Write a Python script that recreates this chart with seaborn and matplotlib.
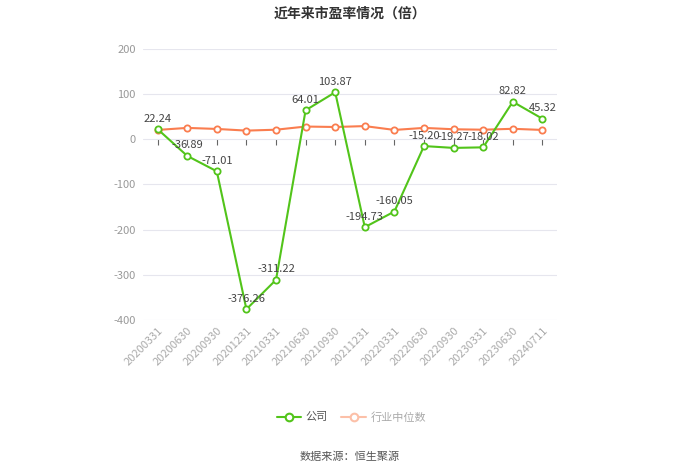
import matplotlib
matplotlib.use("Agg")
import matplotlib.pyplot as plt
import seaborn as sns
import pandas as pd
import numpy as np
from matplotlib.lines import Line2D

dates = ["20200331", "20200630", "20200930", "20201231", "20210331", "20210630", "20210930",
         "20211231", "20220331", "20220630", "20220930", "20230331", "20230630", "20240711"]
company = [22.24, -36.89, -71.01, -376.26, -311.22, 64.01, 103.87, -194.73, -160.05,
           -15.20, -19.27, -18.02, 82.82, 45.32]
industry = [20.5, 25, 22.7, 19, 21, 28, 27, 29, 20.5, 25, 22, 21, 23, 20.5]
yticks = [-400, -300, -200, -100, 0, 100, 200]

sns.set_theme(style="white")
plt.rcParams['font.family'] = ['Noto Sans CJK SC', 'DejaVu Sans']

df = pd.DataFrame({"idx": np.arange(len(dates)), "date": dates,
                   "company": company, "industry": industry})

fig = plt.figure(figsize=(7, 4.74), dpi=100)
ax = fig.add_axes([0.204, 0.325, 0.592, 0.572])

green = "#52c41a"
orange = "#fa7d4f"

sns.lineplot(data=df, x="idx", y="industry", ax=ax, color=orange, lw=1.5,
             marker="o", markersize=4.5, markerfacecolor="white",
             markeredgecolor=orange, markeredgewidth=1.3, zorder=3)
sns.lineplot(data=df, x="idx", y="company", ax=ax, color=green, lw=1.5,
             marker="o", markersize=4.5, markerfacecolor="white",
             markeredgecolor=green, markeredgewidth=1.3, zorder=4)

for i, v in zip(df["idx"], df["company"]):
    ax.annotate(f"{v:.2f}", (i, v), xytext=(0, 4), textcoords="offset points",
                ha="center", va="bottom", fontsize=8, color="#444444", zorder=5)

ax.set_xlim(-0.5, len(dates) - 0.5)
ax.set_ylim(-400, 200)
ax.set_yticks(yticks)
ax.set_yticklabels([str(t) for t in yticks], fontsize=8, color="#999999")
ax.yaxis.grid(True, color="#e6e6ee", lw=0.8)
ax.set_axisbelow(True)
ax.tick_params(axis="y", length=0, pad=5)

ax.set_xticks(df["idx"])
ax.set_xticklabels(dates, rotation=45, ha="right", rotation_mode="anchor",
                   fontsize=8, color="#aaaaaa")
ax.tick_params(axis="x", length=0, pad=4)
ax.set_xlabel("")
ax.set_ylabel("")
for s in ["top", "right", "left", "bottom"]:
    ax.spines[s].set_visible(False)

# zero axis line with tick marks
zero_pos = (0 - (-400)) / 600
sec = ax.secondary_xaxis(zero_pos)
sec.set_xticks(df["idx"])
sec.set_xticklabels([])
sec.tick_params(axis="x", direction="out", length=4, color="#666666", width=0.8)
sec.spines["bottom"].set_color("#666666")
sec.spines["bottom"].set_linewidth(0.9)
for s in ["top", "left", "right"]:
    if s in sec.spines:
        sec.spines[s].set_visible(False)
sec.xaxis.set_ticks_position("bottom")

fig.text(0.5, 0.972, "近年来市盈率情况（倍）", ha="center", va="center",
         fontsize=10, fontweight="bold", color="#333333")

handles = [
    Line2D([0], [0], color=green, lw=1.5, marker="o", markersize=5.5,
           markerfacecolor="white", markeredgecolor=green, markeredgewidth=1.5),
    Line2D([0], [0], color="#fcc0a8", lw=1.5, marker="o", markersize=5.5,
           markerfacecolor="white", markeredgecolor="#fcc0a8", markeredgewidth=1.5),
]
leg = fig.legend(handles, ["公司", "行业中位数"], loc="center", bbox_to_anchor=(0.502, 0.12),
                 ncol=2, frameon=False, fontsize=8, handlelength=2.2,
                 columnspacing=1.2, handletextpad=0.4)
for t, c in zip(leg.get_texts(), ["#555555", "#aaaaaa"]):
    t.set_color(c)

fig.text(0.5, 0.036, "数据来源：恒生聚源", ha="center", va="center",
         fontsize=8, color="#555555")

fig.savefig("out.png", dpi=100)
